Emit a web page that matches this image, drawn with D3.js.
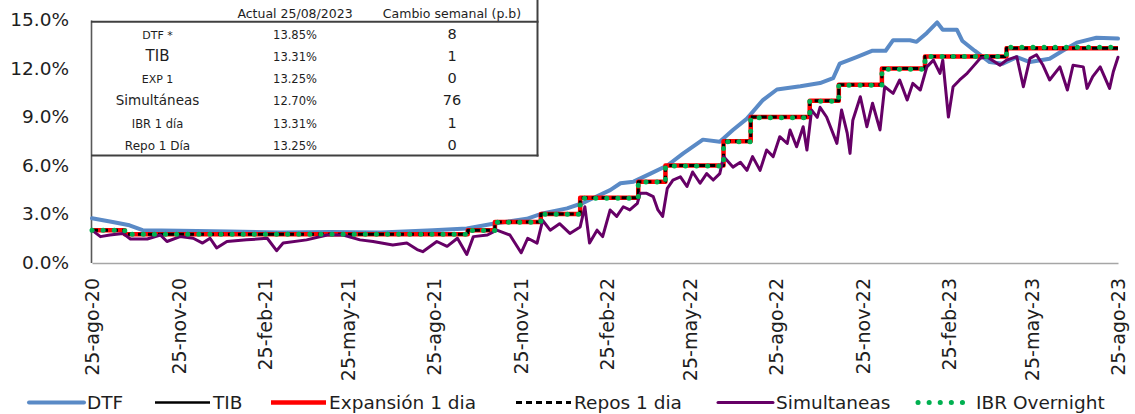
<!DOCTYPE html>
<html>
<head>
<meta charset="utf-8">
<script src="https://cdn.jsdelivr.net/npm/d3@7"></script>
<style>
  body { margin: 0; background: #fff; }
  svg { display: block; }
  text { font-family: "DejaVu Sans", sans-serif; fill: #1e1e1e; }
</style>
</head>
<body>
<div class="chart"></div>
<script>
// ---- data ----
const tickDates = ["2020-08-25","2020-11-25","2021-02-25","2021-05-25","2021-08-25","2021-11-25",
  "2022-02-25","2022-05-25","2022-08-25","2022-11-25","2023-02-25","2023-05-25","2023-08-25"];
const tickLabels = ["25-ago-20","25-nov-20","25-feb-21","25-may-21","25-ago-21","25-nov-21",
  "25-feb-22","25-may-22","25-ago-22","25-nov-22","25-feb-23","25-may-23","25-ago-23"];
const yTicks = [0, 3, 6, 9, 12, 15];

const dtfDates = ["2020-08-25","2020-09-16","2020-10-04","2020-10-18","2020-11-27","2021-01-19","2021-03-14",
  "2021-05-07","2021-06-29","2021-08-24","2021-09-29","2021-10-27","2021-12-02","2021-12-19","2022-01-14",
  "2022-01-31","2022-02-15","2022-03-01","2022-03-12","2022-03-26","2022-04-13","2022-05-01","2022-05-18",
  "2022-06-08","2022-06-26","2022-07-10","2022-07-25","2022-08-11","2022-08-26","2022-09-20","2022-10-11",
  "2022-10-25","2022-11-01","2022-11-19","2022-12-06","2022-12-20","2022-12-28","2023-01-15","2023-01-22",
  "2023-02-02","2023-02-13","2023-02-19","2023-03-06","2023-03-12","2023-03-25","2023-04-10","2023-04-24",
  "2023-05-09","2023-05-23","2023-06-13","2023-06-27","2023-07-12","2023-08-02","2023-08-25"];
const dtfValues = [2.74,2.5,2.3,2.0,1.97,1.92,1.85,1.88,1.85,2.0,2.1,2.4,2.7,3.04,3.35,3.68,4.1,4.48,4.9,5.0,
  5.5,6.0,6.75,7.6,7.47,8.2,8.9,10.05,10.7,10.9,11.1,11.4,12.3,12.7,13.1,13.1,13.75,13.75,13.65,14.2,14.85,
  14.4,14.4,13.7,13.1,12.4,12.3,12.7,12.4,12.6,13.1,13.6,13.9,13.85];

const simDates = ["2020-08-25","2020-09-03","2020-09-13","2020-09-27","2020-10-05","2020-10-23","2020-11-06",
  "2020-11-13","2020-11-27","2020-12-11","2020-12-21","2020-12-29","2021-01-05","2021-01-16","2021-02-06",
  "2021-02-28","2021-03-10","2021-03-17","2021-04-11","2021-05-03","2021-05-20","2021-06-07","2021-06-21",
  "2021-07-12","2021-07-27","2021-08-07","2021-08-13","2021-08-28","2021-09-08","2021-09-19","2021-09-29",
  "2021-10-06","2021-10-21","2021-10-31","2021-11-14","2021-11-26","2021-12-03","2021-12-13","2021-12-19",
  "2021-12-27","2022-01-06","2022-01-17","2022-01-28","2022-02-02","2022-02-07","2022-02-15","2022-02-21",
  "2022-03-01","2022-03-08","2022-03-15","2022-03-22","2022-03-30","2022-04-02","2022-04-09","2022-04-16",
  "2022-04-21","2022-04-26","2022-05-01","2022-05-07","2022-05-15","2022-05-22","2022-05-28","2022-06-05",
  "2022-06-12","2022-06-19","2022-06-26","2022-06-30","2022-07-10","2022-07-18","2022-07-25","2022-07-31",
  "2022-08-08","2022-08-15","2022-08-22","2022-08-29","2022-09-06","2022-09-09","2022-09-16","2022-09-23",
  "2022-09-27","2022-10-02","2022-10-08","2022-10-11","2022-10-18","2022-10-29","2022-11-03","2022-11-09",
  "2022-11-12","2022-11-15","2022-11-23","2022-11-30","2022-12-06","2022-12-14","2022-12-19","2022-12-28",
  "2023-01-04","2023-01-12","2023-01-18","2023-01-26","2023-02-02","2023-02-09","2023-02-16","2023-02-19",
  "2023-02-25","2023-03-02","2023-03-09","2023-03-17","2023-03-23","2023-03-31","2023-04-07","2023-04-21",
  "2023-04-28","2023-05-09","2023-05-16","2023-05-23","2023-05-30","2023-06-06","2023-06-13","2023-06-24",
  "2023-07-02","2023-07-08","2023-07-19","2023-07-23","2023-07-29","2023-08-06","2023-08-16","2023-08-20",
  "2023-08-25"];
const simValues = [2.0,1.6,1.7,1.8,1.45,1.45,1.7,1.3,1.6,1.5,1.2,1.5,0.9,1.3,1.4,1.5,0.73,1.2,1.4,1.7,1.7,
  1.4,1.3,1.08,1.2,0.8,0.67,1.3,1.0,1.5,0.5,1.6,1.7,2.0,1.7,0.6,1.5,1.2,2.6,2.0,2.4,1.8,2.2,3.45,1.2,2.0,1.6,
  3.25,2.85,3.45,3.25,3.66,4.28,4.28,4.07,3.25,2.85,4.59,5.1,5.3,4.7,5.6,4.9,5.5,5.1,5.5,6.55,5.9,6.2,5.7,
  6.55,5.7,6.96,6.55,7.78,7.36,8.2,7.16,8.4,6.96,9.43,8.98,9.6,9.0,7.37,9.43,8.0,6.75,8.8,10.25,8.4,9.85,
  8.2,10.87,10.46,11.29,10.05,11.08,10.67,12.1,12.52,11.7,12.52,9.0,10.87,11.29,11.7,12.1,12.63,12.73,12.2,
  12.52,12.73,10.87,12.63,12.85,12.2,11.29,12.1,10.67,12.2,12.1,10.77,11.5,12.1,10.77,11.8,12.7];

// policy-rate family (step changes)
const policyDates = ["2020-08-25","2020-09-29","2021-09-30","2021-10-29","2021-12-17","2022-01-28",
  "2022-03-31","2022-04-29","2022-06-30","2022-07-29","2022-09-30","2022-10-31","2022-12-16","2023-01-31",
  "2023-04-28","2023-08-25"];
const expValues  = [2.00,1.75,2.00,2.50,3.00,4.00,5.00,6.00,7.50,9.00,10.00,11.00,12.00,12.75,13.25,13.25];
const repoValues = [2.00,1.75,2.00,2.50,3.00,4.00,5.00,6.00,7.50,9.00,10.00,11.00,12.00,12.75,13.25,13.25];
const tibValues  = [2.01,1.74,1.99,2.48,2.97,3.98,4.98,5.99,7.48,8.98,9.98,10.97,11.98,12.74,13.31,13.31];
const ibrValues  = [2.00,1.74,1.98,2.49,2.98,3.97,4.98,5.97,7.47,8.96,9.97,10.96,11.96,12.75,13.31,13.31];

const legendNames = ["DTF","TIB","Expansión 1 dia","Repos 1 dia","Simultaneas","IBR Overnight"];

const tableHeaders = ["Actual 25/08/2023","Cambio semanal (p.b)"];
const tableRows = ["DTF *","TIB","EXP 1","Simultáneas","IBR 1 día","Repo 1 Día"];
const tableActual = ["13.85%","13.31%","13.25%","12.70%","13.31%","13.25%"];
const tableChange = [8, 1, 0, 76, 1, 0];

// ---- styles ----
const styles = {
  "DTF":             { stroke: "#5a8ac6", width: 4,   dash: null,     cap: "round" },
  "TIB":             { stroke: "#000",    width: 2.5, dash: null,     cap: "butt" },
  "Expansión 1 dia": { stroke: "#ff0000", width: 4.5, dash: null,     cap: "butt" },
  "Repos 1 dia":     { stroke: "#000",    width: 3,   dash: "6,4",    cap: "butt" },
  "Simultaneas":     { stroke: "#660066", width: 3,   dash: null,     cap: "round" },
  "IBR Overnight":   { stroke: "#00b050", width: 5,   dash: "0.1,11", cap: "round" }
};

const W = 1135, H = 414;
const parse = d3.timeParse("%Y-%m-%d");

const svg = d3.select(".chart").append("svg")
  .attr("width", W).attr("height", H);

const x = d3.scaleTime()
  .domain([parse(tickDates[0]), parse(tickDates[tickDates.length - 1])])
  .range([92, 1118]);
const y = d3.scaleLinear().domain([0, 15]).range([262.5, 20]);

// axes
const yAxis = svg.append("g").attr("transform", "translate(91,0)")
  .call(d3.axisLeft(y).tickValues(yTicks).tickFormat(d => d.toFixed(1) + "%")
    .tickSize(0).tickSizeOuter(0).tickPadding(22));
yAxis.select(".domain").attr("stroke", "#595959").attr("stroke-width", 1.6);
yAxis.selectAll("text").style("font-size", "18.5px").attr("fill", "#1e1e1e")
  .style("font-family", "DejaVu Sans");

const xAxis = svg.append("g").attr("transform", "translate(0,263)")
  .call(d3.axisBottom(x).tickValues(tickDates.map(parse)).tickFormat((d, i) => tickLabels[i])
    .tickSize(0).tickSizeOuter(0));
xAxis.select(".domain").attr("stroke", "#a6a6a6").attr("stroke-width", 1.6);
xAxis.selectAll("text")
  .attr("transform", "rotate(-90)")
  .attr("text-anchor", "end")
  .attr("x", -15).attr("y", 0).attr("dy", "0.36em")
  .style("font-size", "19px").attr("fill", "#1e1e1e")
  .style("font-family", "DejaVu Sans");

// lines
const toPoints = (dates, values) => dates.map((d, i) => ({ date: parse(d), value: values[i] }));
const plain = d3.line().x(d => x(d.date)).y(d => y(d.value));
const stepped = d3.line().x(d => x(d.date)).y(d => y(d.value)).curve(d3.curveStepAfter);

const series = [
  { name: "DTF", pts: toPoints(dtfDates, dtfValues), gen: plain },
  { name: "TIB", pts: toPoints(policyDates, tibValues), gen: stepped },
  { name: "Expansión 1 dia", pts: toPoints(policyDates, expValues), gen: stepped },
  { name: "Repos 1 dia", pts: toPoints(policyDates, repoValues), gen: stepped },
  { name: "Simultaneas", pts: toPoints(simDates, simValues), gen: plain },
  { name: "IBR Overnight", pts: toPoints(policyDates, ibrValues), gen: stepped }
];

const applyStyle = (sel, s) => sel
  .attr("fill", "none")
  .attr("stroke", s.stroke)
  .attr("stroke-width", s.width)
  .attr("stroke-dasharray", s.dash)
  .attr("stroke-linecap", s.cap)
  .attr("stroke-linejoin", "round");

const gLines = svg.append("g").attr("class", "lines");
series.forEach(s => {
  gLines.append("path").attr("d", s.gen(s.pts)).call(applyStyle, styles[s.name]);
});

// table box
const gTable = svg.append("g").attr("class", "table");
gTable.append("line").attr("x1", 91).attr("x2", 538.5).attr("y1", 21.7).attr("y2", 21.7)
  .attr("stroke", "#404040").attr("stroke-width", 2);
gTable.append("line").attr("x1", 91).attr("x2", 538.5).attr("y1", 155.5).attr("y2", 155.5)
  .attr("stroke", "#404040").attr("stroke-width", 2.2);
gTable.append("line").attr("x1", 537.5).attr("x2", 537.5).attr("y1", 0).attr("y2", 156.5)
  .attr("stroke", "#404040").attr("stroke-width", 2);

const colX = [157.5, 295, 452];
const rowY = d3.scalePoint().domain(tableRows).range([38.5, 150]);
const rowFont = [11, 15, 11, 13.5, 11.5, 12];

gTable.selectAll(".hdr").data(tableHeaders).join("text")
  .attr("class", "hdr")
  .attr("x", (d, i) => colX[i + 1]).attr("y", 18)
  .attr("text-anchor", "middle")
  .style("font-size", "12.5px")
  .text(d => d);

tableRows.forEach((r, i) => {
  const yy = rowY(r);
  gTable.append("text").attr("x", colX[0]).attr("y", yy).attr("text-anchor", "middle")
    .style("font-size", rowFont[i] + "px").text(r);
  gTable.append("text").attr("x", colX[1]).attr("y", yy).attr("text-anchor", "middle")
    .style("font-size", "11.5px").text(tableActual[i]);
  gTable.append("text").attr("x", colX[2]).attr("y", yy).attr("text-anchor", "middle")
    .style("font-size", "14.5px").text(tableChange[i]);
});

// legend
const legendX = [29, 155, 271, 516, 718, 918];
const gLegend = svg.append("g").attr("class", "legend");
legendNames.forEach((name, i) => {
  const s = styles[name];
  const x0 = legendX[i];
  gLegend.append("line").attr("x1", x0).attr("x2", x0 + 55).attr("y1", 402.5).attr("y2", 402.5)
    .call(applyStyle, s);
  gLegend.append("text").attr("x", x0 + 58).attr("y", 408.5)
    .style("font-size", "18.5px").text(name);
});
</script>
</body>
</html>
